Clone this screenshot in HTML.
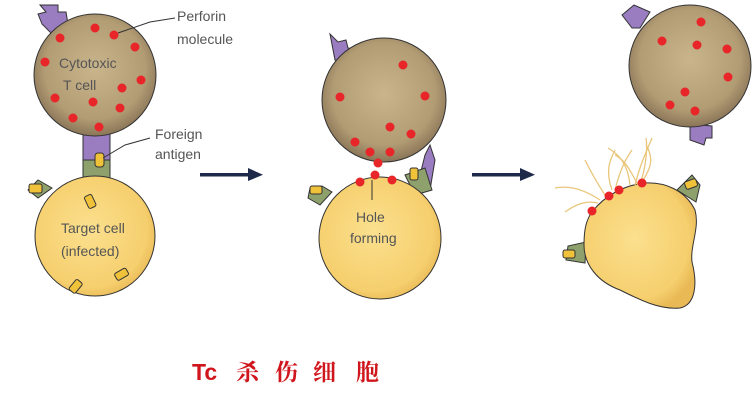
<!DOCTYPE html>
<html><head><meta charset="utf-8"><style>
html,body{margin:0;padding:0;background:#fff;}
svg{display:block}
.lb{font-family:"Liberation Sans",sans-serif;font-size:14px;fill:#555;}
.cn{font-family:"Liberation Serif","Noto Serif CJK SC",serif;font-size:23px;font-weight:bold;fill:#d0161c;}
</style></head><body>
<svg width="754" height="411" viewBox="0 0 754 411" xmlns="http://www.w3.org/2000/svg">
<defs>
<radialGradient id="tc" cx="50%" cy="45%" r="55%"><stop offset="0" stop-color="#c9b58c"/><stop offset="0.75" stop-color="#b29c74"/><stop offset="1" stop-color="#8a7558"/></radialGradient>
<radialGradient id="tg" cx="45%" cy="45%" r="60%"><stop offset="0" stop-color="#fbe08e"/><stop offset="0.8" stop-color="#f6cf6e"/><stop offset="1" stop-color="#e8b955"/></radialGradient>
</defs>
<g stroke="#333" stroke-width="1">
<path d="M40 5 L58 5 L58 12 L66 12 L68 24 L52 34 L42 24 L38 14 L46 12 Z" fill="#9a7cc0"/>
<rect x="83" y="133" width="27" height="28" fill="#9a7cc0"/>
<rect x="83" y="160" width="27" height="20" fill="#8ea16c"/>
<path d="M38 198 L28 190 L38 180 L52 188 Z" fill="#8ea16c"/>
<circle cx="95" cy="75" r="61" fill="url(#tc)"/>
<circle cx="95" cy="236" r="60" fill="url(#tg)"/>
<rect x="95" y="153" width="9" height="14" rx="3" fill="#f0c23a"/>
<rect x="29" y="184" width="13" height="9" rx="2" fill="#f0c23a"/>
<path d="M330 34 L338 42 L346 40 L348 48 L356 50 L350 62 L335 60 Z" fill="#9a7cc0"/>
<path d="M425 155 L430 145 L435 160 L430 190 L420 175 Z" fill="#9a7cc0"/>
<path d="M405 175 L425 168 L432 190 L415 195 Z" fill="#8ea16c"/>
<path d="M320 205 L308 198 L310 188 L322 186 L332 192 Z" fill="#8ea16c"/>
<circle cx="380" cy="238" r="61" fill="url(#tg)"/>
<circle cx="384" cy="100" r="62" fill="url(#tc)"/>
<rect x="410" y="168" width="8" height="12" rx="2" fill="#f0c23a"/>
<rect x="310" y="186" width="12" height="8" rx="2" fill="#f0c23a"/>
<path d="M622 15 L634 5 L650 12 L640 28 L632 28 Z" fill="#9a7cc0"/>
<path d="M690 124 L712 126 L712 138 L706 138 L704 145 L690 140 Z" fill="#9a7cc0"/>
<path d="M677 190 L692 175 L700 185 L696 202 Z" fill="#8ea16c"/>
<path d="M585 263 L566 260 L568 246 L586 242 Z" fill="#8ea16c"/>
<circle cx="690" cy="66" r="61" fill="url(#tc)"/>
<path d="M592 212 C605 195 625 185 645 183 C665 182 685 190 695 210 C700 228 690 245 692 262 C698 285 695 305 680 308 C660 310 640 300 620 290 C598 282 584 265 584 245 C584 230 586 220 592 212 Z" fill="url(#tg)"/>
<rect x="685" y="180" width="12" height="8" rx="2" fill="#f0c23a" transform="rotate(-20 691 184)"/>
<rect x="563" y="250" width="12" height="8" rx="2" fill="#f0c23a"/>
</g>
<g fill="#f0c23a" stroke="#333" stroke-width="1">
<rect x="86" y="195" width="8" height="13" rx="2" transform="rotate(-25 90 201)"/>
<rect x="118" y="268" width="8" height="13" rx="2" transform="rotate(60 122 274)"/>
<rect x="72" y="280" width="8" height="13" rx="2" transform="rotate(40 76 286)"/>
</g>
<g stroke="#e9c67a" stroke-width="1.3" fill="none">
<path d="M612 190 C605 170 610 160 615 150"/><path d="M615 190 C620 170 625 160 632 150"/>
<path d="M630 185 C628 165 620 155 608 148"/><path d="M635 185 C640 165 645 155 652 138"/>
<path d="M638 185 C630 170 625 160 615 155"/><path d="M640 185 C645 170 648 150 646 138"/>
<path d="M600 200 C585 190 570 185 555 188"/><path d="M598 203 C585 200 575 205 565 212"/>
<path d="M605 195 C595 180 590 170 585 160"/><path d="M640 185 C650 170 655 160 646 145"/>
</g>
<g fill="#e8262a">
<circle cx="95" cy="28" r="4.5"/><circle cx="60" cy="38" r="4.5"/><circle cx="114" cy="35" r="4.5"/><circle cx="135" cy="47" r="4.5"/><circle cx="45" cy="62" r="4.5"/><circle cx="141" cy="80" r="4.5"/><circle cx="122" cy="88" r="4.5"/><circle cx="55" cy="98" r="4.5"/><circle cx="93" cy="102" r="4.5"/><circle cx="120" cy="108" r="4.5"/><circle cx="73" cy="118" r="4.5"/><circle cx="99" cy="127" r="4.5"/>
<circle cx="403" cy="65" r="4.5"/><circle cx="340" cy="97" r="4.5"/><circle cx="425" cy="96" r="4.5"/><circle cx="390" cy="127" r="4.5"/><circle cx="411" cy="134" r="4.5"/><circle cx="355" cy="142" r="4.5"/><circle cx="370" cy="152" r="4.5"/><circle cx="390" cy="152" r="4.5"/><circle cx="378" cy="163" r="4.5"/><circle cx="375" cy="175" r="4.5"/><circle cx="360" cy="182" r="4.5"/><circle cx="392" cy="180" r="4.5"/>
<circle cx="701" cy="22" r="4.5"/><circle cx="662" cy="41" r="4.5"/><circle cx="697" cy="45" r="4.5"/><circle cx="727" cy="49" r="4.5"/><circle cx="728" cy="77" r="4.5"/><circle cx="685" cy="92" r="4.5"/><circle cx="670" cy="105" r="4.5"/><circle cx="695" cy="111" r="4.5"/>
<circle cx="592" cy="211" r="4.5"/><circle cx="609" cy="196" r="4.5"/><circle cx="619" cy="190" r="4.5"/><circle cx="642" cy="183" r="4.5"/>
</g>
<g stroke="#333" stroke-width="1" fill="none">
<path d="M118 33 L150 22 L175 18"/>
<path d="M103 158 L125 145 L150 138"/>
<path d="M372 180 L372 200"/>
</g>
<g fill="#1d2a4a">
<rect x="200" y="173" width="50" height="3.5"/><path d="M248 168 L263 174.8 L248 181 Z"/>
<rect x="472" y="173" width="50" height="3.5"/><path d="M520 168 L535 174.8 L520 181 Z"/>
</g>
<g class="lb">
<text x="177" y="21">Perforin</text><text x="177" y="44">molecule</text>
<text x="59" y="68">Cytotoxic</text><text x="63" y="90">T cell</text>
<text x="155" y="139">Foreign</text><text x="155" y="159">antigen</text>
<text x="61" y="233">Target cell</text><text x="61" y="256">(infected)</text>
<text x="356" y="222">Hole</text><text x="350" y="243">forming</text>
</g>
<text class="cn" x="192" y="380" style="font-family:'Liberation Sans',sans-serif">Tc</text>
<text class="cn" x="236" y="380">杀</text>
<text class="cn" x="275" y="380">伤</text>
<text class="cn" x="313" y="380">细</text>
<text class="cn" x="356" y="380">胞</text>
</svg>
</body></html>
